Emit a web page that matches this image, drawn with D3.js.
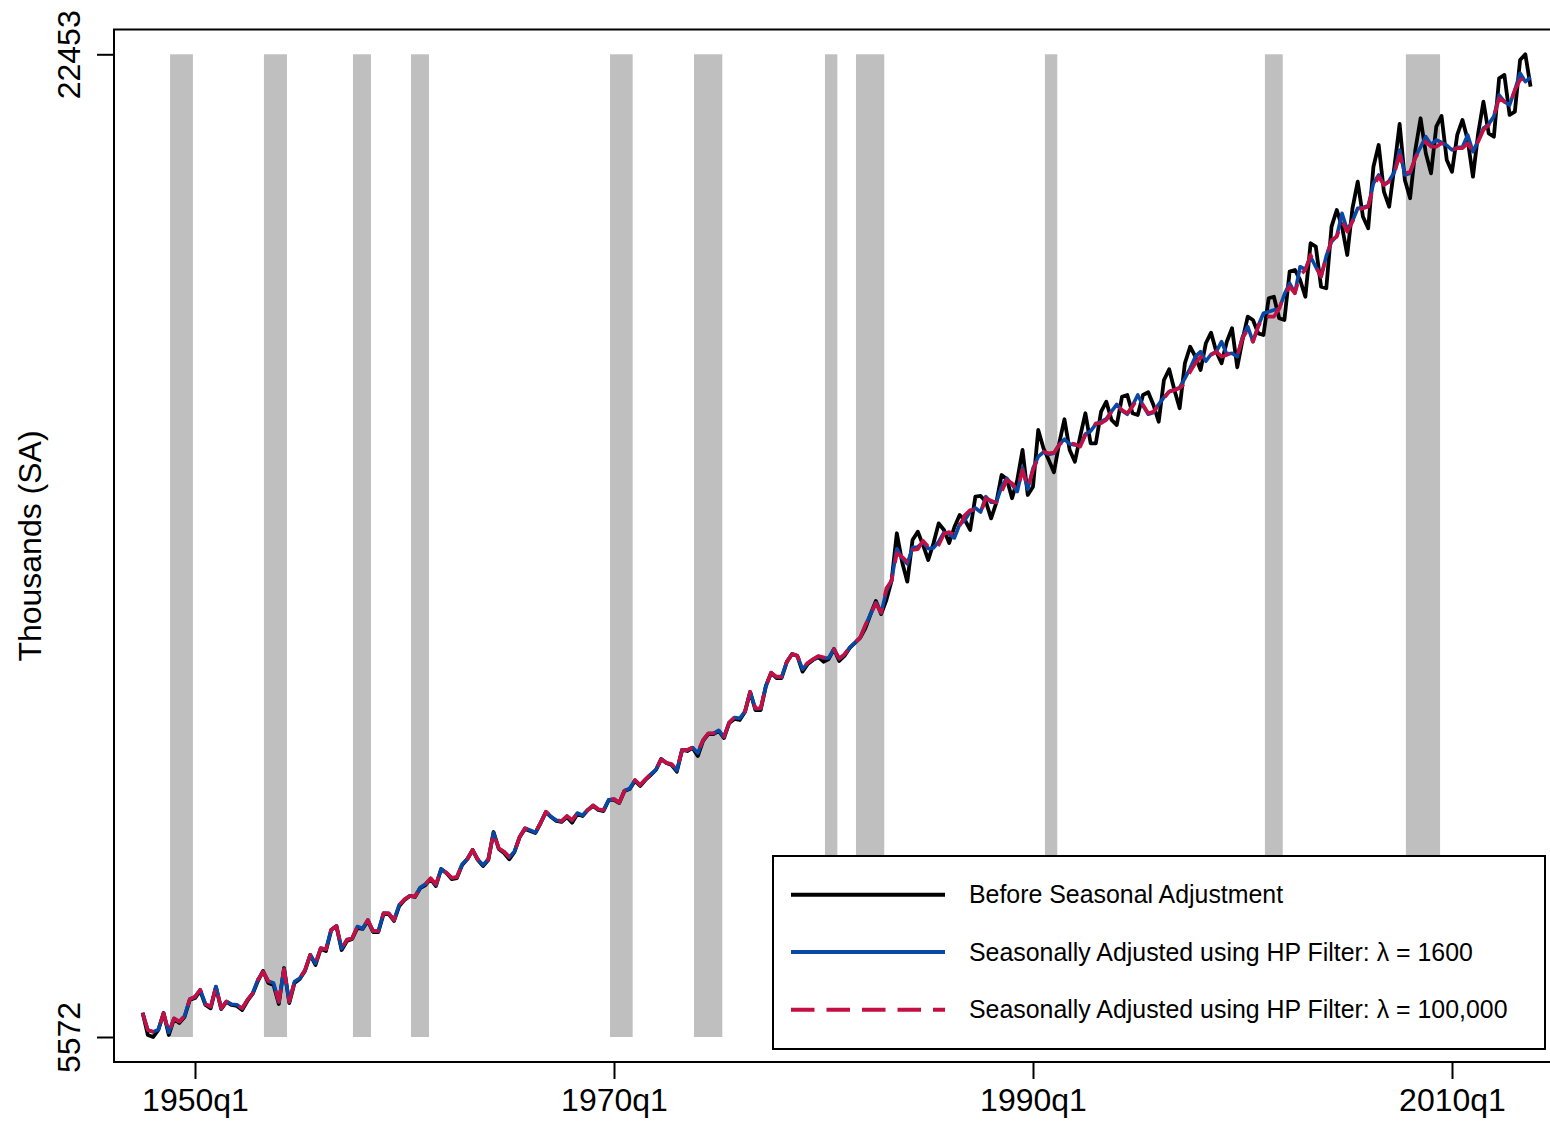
<!DOCTYPE html>
<html>
<head>
<meta charset="utf-8">
<script src="https://cdn.jsdelivr.net/npm/d3@7"></script>
<style>
  body { margin: 0; background: #fff; }
  svg { display: block; font-family: "Liberation Sans", Arial, sans-serif; }
</style>
</head>
<body>
<script>
const width = 1550;
const height = 1122;

// quarterly series, first observation is 1947q3
const firstQuarter = 1947.5;

const beforeSA = [
  5990, 5607, 5572, 5693, 5985, 5607, 5882, 5812, 5916, 6208,
  6242, 6363, 6122, 6065, 6431, 6053, 6174, 6122, 6105, 6036,
  6191, 6311, 6534, 6706, 6500, 6466, 6139, 6757, 6156, 6500,
  6568, 6706, 6981, 6809, 7085, 7050, 7410, 7479, 7067, 7222,
  7256, 7445, 7428, 7565, 7376, 7376, 7685, 7685, 7565, 7823,
  7925, 7995, 7977, 8132, 8183, 8286, 8166, 8458, 8389, 8286,
  8303, 8527, 8630, 8785, 8612, 8509, 8612, 9093, 8801, 8733,
  8625, 8750, 9008, 9145, 9111, 9077, 9248, 9437, 9351, 9283,
  9266, 9351, 9254, 9403, 9369, 9472, 9540, 9472, 9454, 9644,
  9644, 9592, 9798, 9832, 9970, 9884, 9987, 10072, 10159, 10348,
  10279, 10245, 10130, 10503, 10485, 10537, 10399, 10657, 10777, 10777,
  10829, 10708, 10966, 11035, 11018, 11155, 11499, 11189, 11189, 11602,
  11825, 11739, 11739, 12014, 12152, 12117, 11848, 11980, 12049, 12100,
  12019, 12066, 12238, 12031, 12117, 12255, 12341, 12427, 12598, 12839,
  13062, 12839, 13079, 13411, 14225, 13737, 13394, 14110, 14253, 14024,
  13766, 14053, 14396, 14282, 14059, 14333, 14539, 14453, 14282, 14854,
  14866, 14768, 14482, 14751, 15226, 15152, 14826, 15141, 15656, 14883,
  15026, 15999, 15685, 15484, 15273, 15771, 16183, 15656, 15455, 15884,
  16286, 15771, 15771, 16314, 16486, 16171, 16085, 16571, 16601, 16286,
  16257, 16601, 16647, 16429, 16142, 16858, 17042, 16687, 16372, 17145,
  17430, 17259, 17030, 17489, 17671, 17345, 17145, 17516, 17746, 17077,
  17545, 17946, 17889, 17660, 17631, 18262, 18289, 17918, 17889, 18719,
  18748, 18576, 18289, 19207, 19148, 18461, 18434, 19492, 19779, 19492,
  19006, 19808, 20265, 19663, 19464, 20522, 20895, 20093, 19835, 20522,
  21256, 20294, 19980, 20809, 21354, 20753, 20409, 21210, 21393, 20638,
  20437, 21067, 21325, 20981, 20351, 21096, 21639, 21096, 21038, 22041,
  22098, 21411, 21467, 22355, 22453, 21897
];

const saLambda1600 = [
  5985, 5690, 5660, 5700, 5975, 5650, 5890, 5840, 5930, 6225,
  6260, 6385, 6135, 6090, 6440, 6060, 6185, 6135, 6125, 6060,
  6210, 6320, 6555, 6690, 6530, 6500, 6175, 6740, 6175, 6525,
  6580, 6720, 6985, 6835, 7100, 7075, 7415, 7475, 7090, 7245,
  7265, 7470, 7435, 7585, 7390, 7390, 7700, 7695, 7580, 7845,
  7935, 7995, 7985, 8140, 8200, 8295, 8180, 8455, 8390, 8305,
  8320, 8540, 8630, 8780, 8620, 8525, 8630, 9080, 8810, 8755,
  8660, 8760, 9010, 9160, 9125, 9085, 9255, 9440, 9355, 9295,
  9280, 9365, 9290, 9420, 9380, 9475, 9550, 9480, 9470, 9645,
  9660, 9595, 9805, 9840, 9985, 9900, 9995, 10085, 10160, 10345,
  10280, 10255, 10150, 10505, 10500, 10545, 10450, 10670, 10785, 10785,
  10840, 10725, 10975, 11060, 11045, 11160, 11500, 11210, 11210, 11600,
  11830, 11755, 11755, 12020, 12150, 12120, 11890, 11995, 12060, 12110,
  12080, 12085, 12235, 12065, 12140, 12260, 12345, 12430, 12640, 12840,
  13035, 12855, 13230, 13420, 13960, 13800, 13700, 13980, 13990, 14070,
  13960, 13975, 14080, 14240, 14210, 14145, 14380, 14453, 14600, 14660,
  14590, 14854, 14760, 14760, 15026, 15170, 15060, 14940, 15350, 14980,
  15341, 15541, 15620, 15580, 15600, 15750, 15840, 15760, 15740, 15730,
  15930, 15980, 16100, 16142, 16190, 16320, 16440, 16330, 16270, 16420,
  16601, 16420, 16270, 16300, 16440, 16560, 16660, 16690, 16730, 16887,
  17059, 17259, 17345, 17180, 17300, 17345, 17516, 17300, 17317, 17259,
  17600, 17774, 17516, 17790, 18004, 18032, 18060, 18080, 18330, 18519,
  18350, 18804, 18760, 18976, 18800, 18633, 18990, 19234, 19330, 19722,
  19435, 19590, 19808, 19820, 19850, 20237, 20380, 20208, 20280, 20430,
  20809, 20380, 20409, 20690, 20860, 21038, 20900, 20981, 20940, 20890,
  20809, 20850, 20860, 21067, 20780, 20970, 21182, 21250, 21390, 21754,
  21639, 21582, 21840, 22127, 21983, 22058
];

const saLambda100k = [
  5980, 5693, 5663, 5693, 5980, 5646, 5894, 5835, 5933, 6220,
  6265, 6380, 6139, 6093, 6436, 6065, 6179, 6139, 6122, 6065,
  6208, 6323, 6552, 6694, 6534, 6505, 6179, 6735, 6179, 6522,
  6581, 6723, 6981, 6838, 7096, 7079, 7410, 7479, 7096, 7239,
  7267, 7467, 7440, 7582, 7394, 7394, 7697, 7697, 7582, 7840,
  7938, 7995, 7983, 8144, 8196, 8299, 8196, 8454, 8395, 8310,
  8316, 8544, 8625, 8785, 8625, 8527, 8625, 9082, 8814, 8756,
  8670, 8756, 9013, 9157, 9128, 9089, 9254, 9443, 9357, 9300,
  9283, 9369, 9300, 9415, 9386, 9472, 9553, 9484, 9472, 9644,
  9661, 9597, 9803, 9845, 9987, 9901, 9999, 10085, 10159, 10343,
  10285, 10262, 10159, 10503, 10503, 10549, 10468, 10674, 10789, 10789,
  10846, 10731, 10978, 11064, 11057, 11160, 11504, 11219, 11219, 11602,
  11830, 11762, 11762, 12019, 12152, 12122, 11906, 12002, 12061, 12117,
  12095, 12088, 12232, 12077, 12146, 12260, 12346, 12432, 12650, 12839,
  13022, 12861, 13280, 13411, 13881, 13823, 13737, 13938, 13950, 14098,
  13995, 13950, 14024, 14213, 14247, 14196, 14350, 14539, 14625, 14625,
  14568, 14826, 14785, 14751, 14939, 15141, 15084, 14969, 15312, 14998,
  15312, 15513, 15627, 15599, 15610, 15742, 15828, 15771, 15759, 15713,
  15914, 15970, 16115, 16115, 16171, 16314, 16429, 16343, 16286, 16400,
  16544, 16429, 16286, 16314, 16429, 16544, 16657, 16687, 16716, 16802,
  17001, 17145, 17259, 17173, 17288, 17345, 17259, 17288, 17345, 17271,
  17580, 17717, 17516, 17774, 17975, 17946, 17946, 18090, 18319, 18461,
  18348, 18662, 18748, 19006, 18804, 18633, 18976, 19263, 19320, 19578,
  19406, 19578, 19779, 19808, 19835, 20179, 20351, 20208, 20265, 20409,
  20723, 20409, 20437, 20667, 20839, 20952, 20866, 20866, 20924, 20895,
  20809, 20839, 20839, 20924, 20780, 20952, 21153, 21239, 21381, 21697,
  21639, 21582, 21840, 22012, 22041, 21983
];

// recession shading, start / end in decimal years
const recessionStart = [1948.81, 1953.29, 1957.54, 1960.31, 1969.81, 1973.82, 1980.07, 1981.55, 1990.57, 2001.07, 2007.80];
const recessionEnd   = [1949.90, 1954.39, 1958.40, 1961.17, 1970.89, 1975.17, 1980.66, 1982.90, 1991.16, 2001.92, 2009.43];

const xTicks = [1950, 1970, 1990, 2010];
const xTickLabels = ["1950q1", "1970q1", "1990q1", "2010q1"];
const yTicks = [5572, 22453];

const legendLabels = [
  "Before Seasonal Adjustment",
  "Seasonally Adjusted using HP Filter: \u03bb = 1600",
  "Seasonally Adjusted using HP Filter: \u03bb = 100,000"
];

const black = "#000";
const blue = "#0a48a6";
const red = "#c40f43";
const dash = "23.5,12";

const x = d3.scaleLinear().domain([1950, 2010]).range([195, 1452]);
const y = d3.scaleLinear().domain([5572, 22453]).range([1037, 54.3]);

const frame = { left: 114, top: 29.5, bottom: 1062, right: 1552 };

const svg = d3.select("body")
  .append("svg")
  .attr("width", width)
  .attr("height", height);

// recession bars
svg.append("g")
  .attr("fill", "#bfbfbf")
  .selectAll("rect")
  .data(recessionStart)
  .join("rect")
  .attr("x", d => x(d))
  .attr("width", (d, i) => x(recessionEnd[i]) - x(d))
  .attr("y", y(yTicks[1]))
  .attr("height", y(yTicks[0]) - y(yTicks[1]));

const line = d3.line()
  .x((d, i) => x(firstQuarter + i / 4))
  .y(d => y(d));

svg.append("path")
  .attr("d", line(beforeSA))
  .attr("fill", "none")
  .attr("stroke", black)
  .attr("stroke-width", 3.8)
  .attr("stroke-linejoin", "round");

svg.append("path")
  .attr("d", line(saLambda1600))
  .attr("fill", "none")
  .attr("stroke", blue)
  .attr("stroke-width", 3.6)
  .attr("stroke-linejoin", "round");

svg.append("path")
  .attr("d", line(saLambda100k))
  .attr("fill", "none")
  .attr("stroke", red)
  .attr("stroke-width", 3.6)
  .attr("stroke-dasharray", dash)
  .attr("stroke-linejoin", "round");

// frame
svg.append("path")
  .attr("d", `M${frame.right},${frame.top}H${frame.left}V${frame.bottom}H${frame.right}`)
  .attr("fill", "none")
  .attr("stroke", "#000")
  .attr("stroke-width", 2);

// x axis
const xAxis = svg.append("g")
  .attr("transform", `translate(0,${frame.bottom})`)
  .call(d3.axisBottom(x)
    .tickValues(xTicks)
    .tickFormat((d, i) => xTickLabels[i])
    .tickSize(17)
    .tickPadding(9));
xAxis.select(".domain").remove();
xAxis.selectAll(".tick line").attr("stroke-width", 2);
xAxis.selectAll(".tick text")
  .attr("font-size", 32)
  .attr("font-family", "Liberation Sans, Arial, sans-serif")
  .attr("fill", "#000");

// y axis
const yAxis = svg.append("g")
  .attr("transform", `translate(${frame.left},0)`)
  .call(d3.axisLeft(y)
    .tickValues(yTicks)
    .tickFormat(d3.format("d"))
    .tickSize(17));
yAxis.select(".domain").remove();
yAxis.selectAll(".tick line").attr("stroke-width", 2);
yAxis.selectAll(".tick text")
  .attr("transform", "rotate(-90)")
  .attr("x", 0)
  .attr("y", -34)
  .attr("dy", 0)
  .attr("text-anchor", "middle")
  .attr("font-size", 32)
  .attr("font-family", "Liberation Sans, Arial, sans-serif")
  .attr("fill", "#000");

svg.append("text")
  .attr("transform", "translate(41,546) rotate(-90)")
  .attr("text-anchor", "middle")
  .attr("font-size", 32)
  .text("Thousands (SA)");

// legend
const legend = svg.append("g");
legend.append("rect")
  .attr("x", 773)
  .attr("y", 856)
  .attr("width", 772)
  .attr("height", 193)
  .attr("fill", "#fff")
  .attr("stroke", "#000")
  .attr("stroke-width", 2);

const legendStyles = [
  { color: black, dash: null },
  { color: blue, dash: null },
  { color: red, dash: dash }
];
const legendRows = [894.7, 952, 1009.7];

const item = legend.selectAll("g.item")
  .data(legendLabels)
  .join("g")
  .attr("class", "item")
  .attr("transform", (d, i) => `translate(0,${legendRows[i]})`);

item.append("line")
  .attr("x1", 791)
  .attr("x2", 945)
  .attr("stroke", (d, i) => legendStyles[i].color)
  .attr("stroke-width", 4)
  .attr("stroke-dasharray", (d, i) => legendStyles[i].dash);

item.append("text")
  .attr("x", 969)
  .attr("dy", "0.35em")
  .attr("font-size", 24.9)
  .text(d => d);
</script>
</body>
</html>
